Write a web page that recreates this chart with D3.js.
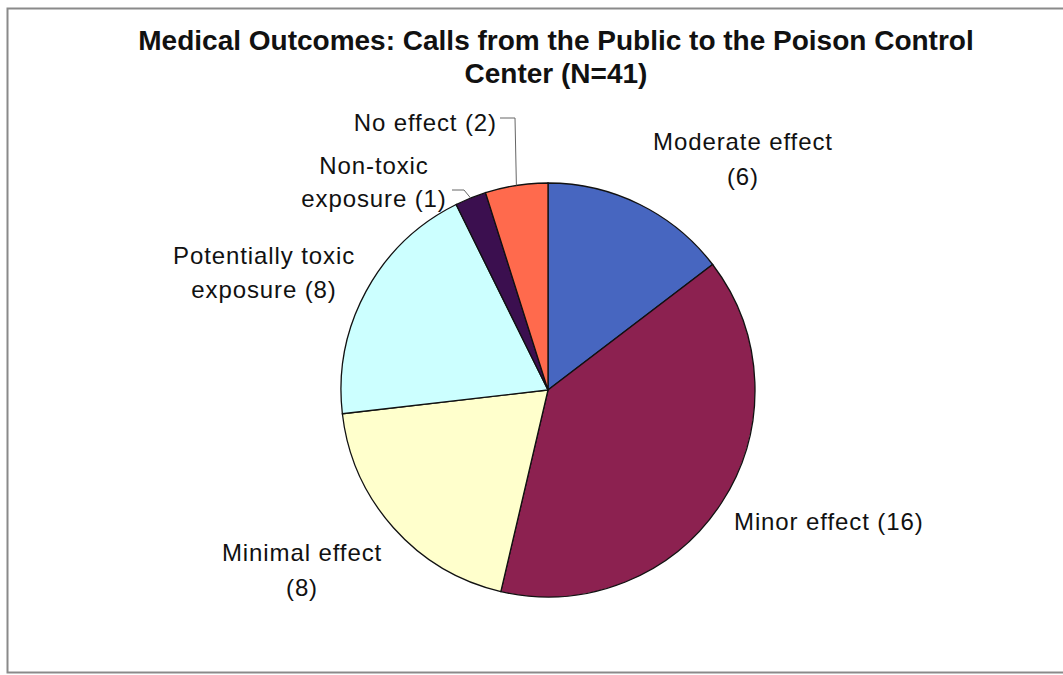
<!DOCTYPE html>
<html>
<head>
<meta charset="utf-8">
<script src="https://cdn.jsdelivr.net/npm/d3@7"></script>
<style>
  body { margin: 0; background: #fff; }
  text { font-family: "Liberation Sans", Arial, sans-serif; fill: #111; }
</style>
</head>
<body>
<div id="chart"></div>
<script>
// data
const categories = ['Moderate effect', 'Minor effect', 'Minimal effect', 'Potentially toxic exposure', 'Non-toxic exposure', 'No effect'];
const counts = [6, 16, 8, 8, 1, 2];
const colors = ['#4766c0', '#8c2150', '#ffffcc', '#ccffff', '#3b0f4f', '#ff6a4d'];
// label text broken into lines, as in the picture
const labelLines = [
    ['Moderate effect', '(6)'],
    ['Minor effect (16)'],
    ['Minimal effect', '(8)'],
    ['Potentially toxic', 'exposure (8)'],
    ['Non-toxic', 'exposure (1)'],
    ['No effect (2)']
];
const titleLines = ['Medical Outcomes: Calls from the Public to the Poison Control', 'Center (N=41)'];

const width = 1063, height = 675;
const cx = 548, cy = 390, radius = 207;

const svg = d3.select('#chart').append('svg')
    .attr('width', width)
    .attr('height', height);

// chart area border
svg.append('rect')
    .attr('x', 7.5).attr('y', 8.5)
    .attr('width', width + 10).attr('height', 664)
    .style('fill', 'none')
    .style('stroke', '#8a8a8a')
    .style('stroke-width', 2);

// title
svg.append('g').selectAll('text')
    .data(titleLines)
    .join('text')
    .attr('x', 556)
    .attr('y', (d, i) => 50 + i * 33)
    .attr('text-anchor', 'middle')
    .style('font-size', '28px')
    .style('font-weight', 'bold')
    .text(d => d);

const data = categories.map((c, i) => ({name: c, value: counts[i], color: colors[i], lines: labelLines[i]}));

const pie = d3.pie()
    .value(d => d.value)
    .sort(null);

const arc = d3.arc()
    .innerRadius(0)
    .outerRadius(radius);

const arcs = pie(data);

const plot = svg.append('g')
    .attr('transform', `translate(${cx},${cy})`);

plot.selectAll('.slice')
    .data(arcs)
    .join('path')
    .classed('slice', true)
    .attr('d', arc)
    .style('fill', d => d.data.color)
    .style('stroke', '#111')
    .style('stroke-width', 1.3);

// label anchors relative to pie centre (placement as in picture)
const labelPos = [
    {x: 195, y: -240, anchor: 'middle', lh: 35},
    {x: 186, y: 140, anchor: 'start', lh: 34},
    {x: -246, y: 171, anchor: 'middle', lh: 35},
    {x: -284, y: -126, anchor: 'middle', lh: 34},
    {x: -174, y: -216, anchor: 'middle', lh: 33},
    {x: -51, y: -259, anchor: 'end', lh: 34}
];

const labels = plot.selectAll('.label')
    .data(arcs)
    .join('text')
    .classed('label', true)
    .attr('text-anchor', (d, i) => labelPos[i].anchor)
    .style('font-size', '24px')
    .style('letter-spacing', '0.9px');

labels.selectAll('tspan')
    .data((d, i) => d.data.lines.map(l => ({l, p: labelPos[i]})))
    .join('tspan')
    .attr('x', d => d.p.x)
    .attr('y', (d, j) => d.p.y + j * d.p.lh)
    .text(d => d.l);

// leader lines for the two small slices
const leaders = [
    {i: 4, pts: [[-96, -200], [-84, -200]]},
    {i: 5, pts: [[-48, -272], [-33, -272]]}
];
leaders.forEach(ld => {
    const a = arcs[ld.i];
    const mid = (a.startAngle + a.endAngle) / 2;
    const end = [Math.sin(mid) * radius, -Math.cos(mid) * radius];
    plot.append('path')
        .attr('d', d3.line()(ld.pts.concat([end])))
        .style('fill', 'none')
        .style('stroke', '#666')
        .style('stroke-width', 1);
});
</script>
</body>
</html>
